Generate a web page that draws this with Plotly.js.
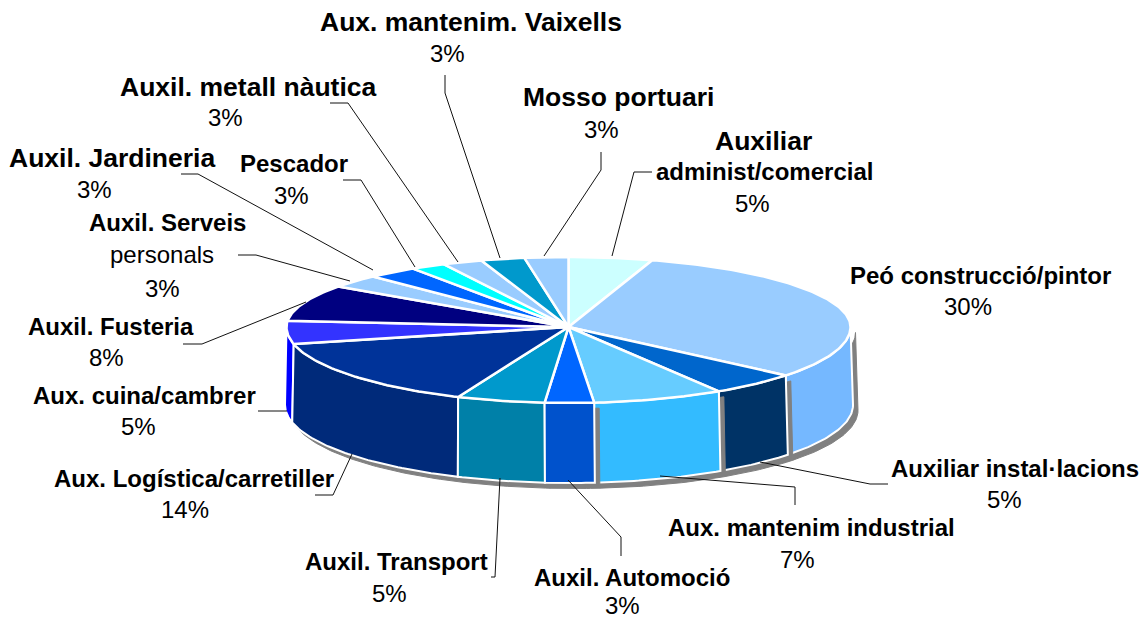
<!DOCTYPE html>
<html><head><meta charset="utf-8">
<script src="https://cdn.plot.ly/plotly-3.0.1.min.js"></script>
<style>html,body{margin:0;padding:0;background:#fff}#c{width:1148px;height:619px}</style>
</head><body><div id="c"></div>
<script>
// --- data ---
const categories = ["Auxiliar administ/comercial","Peó construcció/pintor","Auxiliar instal·lacions","Aux. mantenim industrial","Auxil. Automoció","Auxil. Transport","Aux. Logística/carretiller","Aux. cuina/cambrer","Auxil. Fusteria","Auxil. Serveis personals","Auxil. Jardineria","Pescador","Auxil. metall nàutica","Aux. mantenim. Vaixells","Mosso portuari"];
const values = [4.8,31.2,5.05,7.5,2.8,5.05,15,5,8.4,3,2.9,2,2.3,2.5,2.5];
const topColors = ["#CCFFFF","#99CCFF","#0066CC","#66CCFF","#0066FF","#0099CC","#003399","#3333FF","#000080","#99CCFF","#0066FF","#00FFFF","#99CCFF","#0099CC","#99CCFF"];
const wallColors = ["#CCFFFF","#75B8FF","#003366","#33BBFF","#0052CC","#0080A8","#002A7A","#0000FF","#000080","#99CCFF","#0066FF","#00FFFF","#99CCFF","#0099CC","#99CCFF"];
// label lines: text, bold?
const labelText = ["Aux. mantenim. Vaixells","3%","Auxil. metall nàutica","3%","Mosso portuari","3%","Auxiliar","administ/comercial","5%","Peó construcció/pintor","30%","Auxil. Jardineria","3%","Pescador","3%","Auxil. Serveis","personals","3%","Auxil. Fusteria","8%","Aux. cuina/cambrer","5%","Aux. Logística/carretiller","14%","Auxiliar instal·lacions","5%","Aux. mantenim industrial","7%","Auxil. Transport","5%","Auxil. Automoció","3%"];
const labelBold = [1,0,1,0,1,0,1,1,0,1,0,1,0,1,0,1,0,0,1,0,1,0,1,0,1,0,1,0,1,0,1,0];
const labelX = [471,447,248,225,618,601,763,764,752,980,968,112,94,294,291,167,162,162,111,106,144,138,194,185,1015,1004,811,797,396,389,632,622];
const labelY = [22,53,87,117,97,129,141,171,203,275,306,158,189,163,195,222,254,288,326,357,395,426,478,509,468,499,527,559,561,593,577,605];
const labelSize = [26.5,24,26.5,24,26.5,24,26.5,24,24,24,24,26.5,24,24,24,24,24,24,24,24,24,24,24,24,24,24,24,24,24,24,24,24];
// leader lines (x,y polylines)
const leaderX = [[445,445,500],[330,348,458],[181,198,373],[343,361,415],[238,256,350],[601,601,544],[652,634,612],[183,202,306],[258,287],[315,333,352],[491,495,500],[621,621,568],[795,795,660],[888,870,760]];
const leaderY = [[75,93,258],[103,103,262],[174,174,270],[180,180,267],[255,255,281],[152,170,256],[172,172,256],[344,344,302],[411,411],[495,495,454],[577,577,478],[556,537,480],[505,487,476],[484,484,462]];

// --- geometry of the tilted disc ---
const CX=568.5, CY=327, RX=282, RY_BACK=70, RY_FRONT=76, BCX=569, BCY=405, BRX=284, BRY=78;
const rad=d=>d*Math.PI/180;
const topPt=t=>{const c=Math.cos(rad(t));return [CX+RX*Math.sin(rad(t)),CY-(c>0?RY_BACK:RY_FRONT)*c];};
const botPt=t=>[BCX+BRX*Math.sin(rad(t)),BCY-BRY*Math.cos(rad(t))];
const arc=(f,a,b)=>{const n=Math.max(2,Math.ceil(Math.abs(b-a)));const o=[];for(let i=0;i<=n;i++)o.push(f(a+(b-a)*i/n));return o;};
const total=values.reduce((s,v)=>s+v,0);
let cum=0;
const angles=values.map(v=>{const a=cum/total*360;cum+=v;return [a,cum/total*360];});
const poly=(pts,fill,line,w)=>({type:'scatter',mode:'lines',x:pts.map(p=>p[0]),y:pts.map(p=>p[1]),fill:'toself',fillcolor:fill,line:{color:line,width:w},hoverinfo:'skip',showlegend:false});
const traces=[];
// walls (front half only)
const walls=[];
angles.forEach(([a,b],i)=>{const s=Math.max(a,90),e=Math.min(b,270);if(e>s)walls.push({i,s,e,m:Math.abs((a+b)/2-180)});});
walls.sort((p,q)=>q.m-p.m);
walls.forEach(w=>{
  const pts=[...arc(topPt,w.s,w.e),...arc(botPt,w.e,w.s)];
  pts.push(pts[0]);
  traces.push(poly(pts.map(p=>[p[0]+5,p[1]+5.5]),'#808080','#808080',1));
  traces.push(poly(pts,wallColors[w.i],'#FFFFFF',2));
});
// top slices
angles.forEach(([a,b],i)=>{
  const pts=[[CX,CY],...arc(topPt,a,b),[CX,CY]];
  traces.push(poly(pts,topColors[i],'#FFFFFF',2.5));
});
// leaders
leaderX.forEach((xs,i)=>traces.push({type:'scatter',mode:'lines',x:xs,y:leaderY[i],line:{color:'#111111',width:1},hoverinfo:'skip',showlegend:false}));

const annotations=labelText.map((t,i)=>({text:labelBold[i]?'<b>'+t+'</b>':t,x:labelX[i],y:labelY[i],xref:'x',yref:'y',showarrow:false,xanchor:'center',yanchor:'middle',font:{family:'"Liberation Sans",Arial,sans-serif',size:labelSize[i],color:'#000'}}));

Plotly.newPlot('c',traces,{width:1148,height:619,margin:{l:0,r:0,t:0,b:0},paper_bgcolor:'#fff',plot_bgcolor:'#fff',showlegend:false,
 xaxis:{range:[0,1148],visible:false,fixedrange:true},yaxis:{range:[619,0],visible:false,fixedrange:true},annotations},{staticPlot:true,displayModeBar:false});
</script></body></html>
